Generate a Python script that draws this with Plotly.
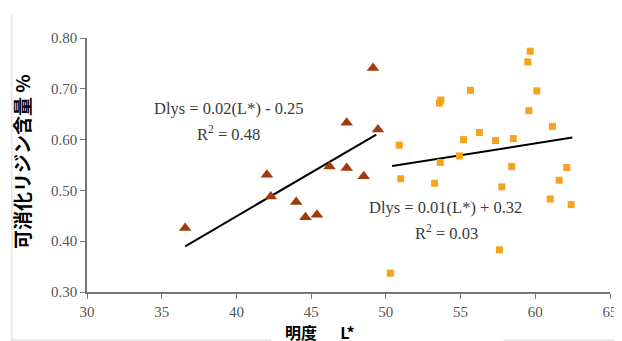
import plotly.graph_objects as go

# Group 1 (triangles)
tri_x = [36.57, 42.04, 42.3, 44.0, 44.62, 45.39, 46.23, 47.38, 47.38, 48.52, 49.14, 49.47]
tri_y = [0.426, 0.531, 0.488, 0.477, 0.447, 0.452, 0.547, 0.544, 0.633, 0.528, 0.741, 0.620]
# Group 2 (squares)
sq_x = [50.9, 50.99, 50.3, 53.26, 53.59, 53.68, 53.64, 54.92, 55.2, 55.66, 56.26, 57.34, 57.76,
        57.6, 58.42, 58.53, 59.57, 59.5, 59.66, 60.1, 61.15, 61.0, 61.6, 62.1, 62.4]
sq_y = [0.589, 0.523, 0.337, 0.514, 0.672, 0.678, 0.555, 0.568, 0.600, 0.697, 0.614, 0.598, 0.507,
        0.383, 0.547, 0.602, 0.657, 0.753, 0.774, 0.696, 0.626, 0.483, 0.520, 0.545, 0.472]
# Trend line endpoints
trend1_x = [36.57, 49.36]
trend1_y = [0.390, 0.610]
trend2_x = [50.42, 62.48]
trend2_y = [0.548, 0.604]

x_ticks = [30, 35, 40, 45, 50, 55, 60, 65]
y_ticks = [0.30, 0.40, 0.50, 0.60, 0.70, 0.80]
y_tick_labels = ["0.30", "0.40", "0.50", "0.60", "0.70", "0.80"]

eq1 = ["Dlys = 0.02(L*) - 0.25", "R<sup>2</sup> = 0.48"]
eq2 = ["Dlys = 0.01(L*) + 0.32", "R<sup>2</sup> = 0.03"]

fig = go.Figure()
fig.add_trace(go.Scatter(x=trend1_x, y=trend1_y, mode="lines",
                         line=dict(color="black", width=2), showlegend=False))
fig.add_trace(go.Scatter(x=trend2_x, y=trend2_y, mode="lines",
                         line=dict(color="black", width=2), showlegend=False))
fig.add_trace(go.Scatter(x=tri_x, y=tri_y, mode="markers",
                         marker=dict(symbol="triangle-up", size=11, color="#A13A0C"),
                         showlegend=False))
fig.add_trace(go.Scatter(x=sq_x, y=sq_y, mode="markers",
                         marker=dict(symbol="square", size=7, color="#F7A21C"),
                         showlegend=False))

serif = "Liberation Serif, Times New Roman, serif"
tcol = "#3a3a3a"
fig.add_annotation(x=39.47, y=0.662, text=eq1[0], showarrow=False,
                   font=dict(family=serif, size=16.5, color=tcol))
fig.add_annotation(x=39.5, y=0.612, text=eq1[1], showarrow=False,
                   font=dict(family=serif, size=16.5, color=tcol))
fig.add_annotation(x=54.0, y=0.467, text=eq2[0], showarrow=False,
                   font=dict(family=serif, size=16.5, color=tcol))
fig.add_annotation(x=54.05, y=0.418, text=eq2[1], showarrow=False,
                   font=dict(family=serif, size=16.5, color=tcol))

# axis titles as annotations
fig.add_annotation(x=-0.125, y=0.514, xref="paper", yref="paper", text="<b>可消化リジン含量 %</b>",
                   textangle=-90, showarrow=False, xanchor="center", yanchor="middle",
                   font=dict(family="Noto Sans CJK JP", size=19, color="black"))
fig.add_annotation(x=0.446, y=-0.157, xref="paper", yref="paper", text="<b>明度　  L*</b>",
                   showarrow=False, yanchor="middle", xanchor="center",
                   font=dict(family="Noto Sans CJK JP", size=16, color="black"))

# faint frame lines of the original image
frame = dict(color="#d6d6d6", width=1)
fig.add_shape(type="line", xref="paper", yref="paper", x0=-0.1437, x1=-0.1437, y0=1.09, y1=-0.2, line=frame)
fig.add_shape(type="line", xref="paper", yref="paper", x0=-0.1437, x1=0.352, y0=-0.189, y1=-0.189, line=frame)
fig.add_shape(type="line", xref="paper", yref="paper", x0=0.796, x1=1.03, y0=-0.189, y1=-0.189, line=frame)

fig.update_layout(
    width=622, height=341,
    margin=dict(l=79, r=14, t=30, b=57),
    plot_bgcolor="white", paper_bgcolor="white",
    xaxis=dict(range=[30, 65], tickvals=x_ticks, showgrid=False, zeroline=False,
               showline=True, linecolor="#777777", linewidth=1.5,
               ticks="outside", ticklen=5, tickcolor="#777777",
               tickfont=dict(family=serif, size=15, color="#555555")),
    yaxis=dict(range=[0.30, 0.80], tickvals=y_ticks, ticktext=y_tick_labels,
               showgrid=False, zeroline=False,
               showline=True, linecolor="#777777", linewidth=1.5,
               ticks="outside", ticklen=5, tickcolor="#777777",
               tickfont=dict(family=serif, size=15, color="#555555")),
)

fig.write_html("out.html")
